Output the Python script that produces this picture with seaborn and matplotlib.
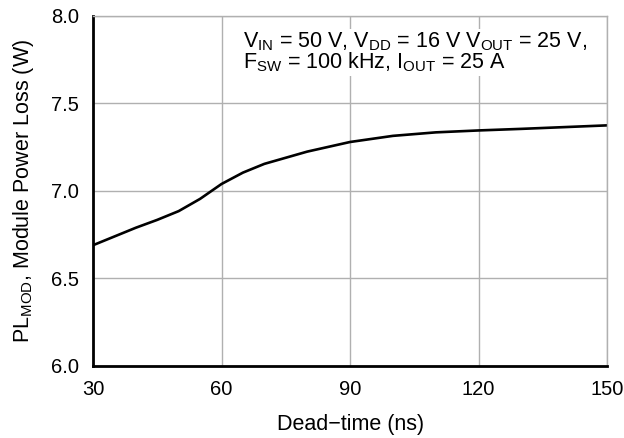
import matplotlib
matplotlib.use("Agg")
import matplotlib.pyplot as plt
import seaborn as sns
import pandas as pd

# Data
dead_time = [30, 35, 40, 45, 50, 55, 60, 65, 70, 75, 80, 90, 100, 110, 120, 130, 140, 150]
power_loss = [6.69, 6.74, 6.79, 6.835, 6.885, 6.955, 7.04, 7.105, 7.155, 7.19, 7.225,
              7.28, 7.315, 7.335, 7.346, 7.355, 7.365, 7.375]

x_ticks = [30, 60, 90, 120, 150]
y_ticks = [6.0, 6.5, 7.0, 7.5, 8.0]

df = pd.DataFrame({"dead_time": dead_time, "power_loss": power_loss})

sns.set_theme(style="white")
plt.rcParams["font.family"] = ["Liberation Sans", "DejaVu Sans"]
plt.rcParams["mathtext.fontset"] = "custom"
plt.rcParams["mathtext.rm"] = "Liberation Sans"
plt.rcParams["mathtext.it"] = "Liberation Sans"
plt.rcParams["text.color"] = "black"
plt.rcParams["axes.labelcolor"] = "black"

fig = plt.figure(figsize=(6.24, 4.38), dpi=100)
ax = fig.add_axes([0.149, 0.1644, 0.824, 0.7991])

sns.lineplot(data=df, x="dead_time", y="power_loss", ax=ax, color="black", linewidth=1.9)

ax.set_xlim(30, 150)
ax.set_ylim(6.0, 8.0)
ax.set_xticks(x_ticks)
ax.set_yticks(y_ticks)
ax.set_yticklabels([f"{v:.1f}" for v in y_ticks])
ax.tick_params(axis="both", length=0, labelsize=14.5, colors="black", pad=10)

# Grid and frame
ax.grid(True, color="#b0b0b0", linewidth=1.0)
ax.set_axisbelow(True)
for side in ["top", "right"]:
    ax.spines[side].set_color("#b0b0b0")
    ax.spines[side].set_linewidth(1.0)
for side in ["left", "bottom"]:
    ax.spines[side].set_color("black")
    ax.spines[side].set_linewidth(2.0)

ax.set_xlabel("Dead\u2212time (ns)", fontsize=15.5, labelpad=11)
ax.set_ylabel(r"PL$_{\mathregular{MOD}}$, Module Power Loss (W)", fontsize=15.5, labelpad=11)

# Operating conditions note
note = (r"V$_{\mathregular{IN}}$ = 50 V, V$_{\mathregular{DD}}$ = 16 V V$_{\mathregular{OUT}}$ = 25 V," "\n"
        r"F$_{\mathregular{SW}}$ = 100 kHz, I$_{\mathregular{OUT}}$ = 25 A")
ax.text(0.292, 0.96, note, transform=ax.transAxes, fontsize=15.5, va="top", ha="left",
        linespacing=0.9,
        bbox=dict(facecolor="white", edgecolor="none", pad=1))

fig.savefig("out.png", dpi=100)
